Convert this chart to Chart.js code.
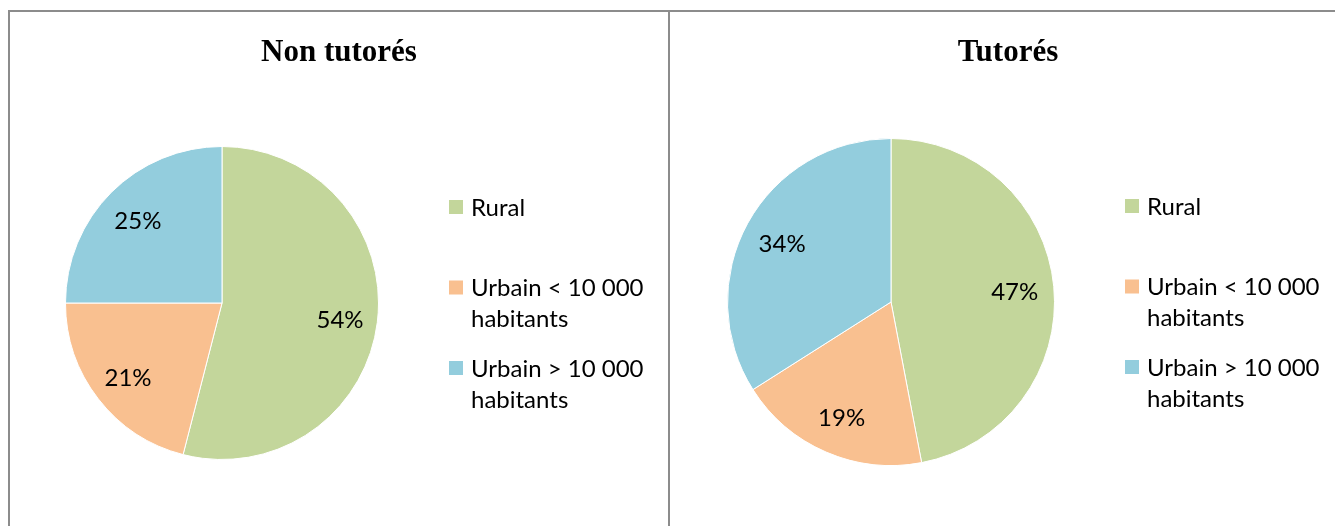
<!DOCTYPE html>
<html lang="fr">
<head>
<meta charset="utf-8">
<script src="https://cdn.jsdelivr.net/npm/chart.js@4.4.1/dist/chart.umd.min.js"></script>
<style>
  html, body { margin: 0; padding: 0; background: #fff; overflow: hidden; }
  body { width: 1335px; height: 526px; position: relative; }
  .frame { position: absolute; left: 8px; top: 10px; width: 1400px; height: 600px;
           border-top: 2px solid #8c8c8c; border-left: 2px solid #8c8c8c; }
  .divider { position: absolute; left: 668px; top: 10px; width: 2px; height: 600px; background: #8c8c8c; }
  .panel { position: absolute; top: 12px; }
  #panelA { left: 10px; }
  #panelB { left: 670px; }
</style>
</head>
<body>
<div class="frame"></div>
<div class="divider"></div>
<div class="panel" id="panelA"><canvas id="chartA" width="658" height="514"></canvas></div>
<div class="panel" id="panelB"><canvas id="chartB" width="676" height="514"></canvas></div>

<script>
// catégories (une ligne par élément de tableau pour la légende)
const categories = [
  ['Rural'],
  ['Urbain < 10 000', 'habitants'],
  ['Urbain > 10 000', 'habitants'],
];
const nonTutores = [54, 21, 25];
const tutores = [47, 19, 34];
const titles = ['Non tutorés', 'Tutorés'];

const COLORS = ['#c3d69b', '#f9c090', '#93cddd'];
const TEXT_FONT = '24px Lato';
const TITLE_FONT = 'bold 31px "Liberation Serif"';

// titre, étiquettes de données et légende dessinés à la manière d'Excel
const excelDecor = {
  id: 'excelDecor',
  afterDatasetsDraw(chart, args, opts) {
    const ctx = chart.ctx;
    const area = chart.chartArea;
    const meta = chart.getDatasetMeta(0);
    const ds = chart.data.datasets[0];

    ctx.save();
    ctx.fillStyle = '#000';

    // étiquettes dans les secteurs
    ctx.font = TEXT_FONT;
    ctx.textAlign = 'center';
    ctx.textBaseline = 'middle';
    meta.data.forEach((arc, i) => {
      const p = arc.getProps(['x', 'y', 'startAngle', 'endAngle', 'outerRadius'], true);
      const mid = (p.startAngle + p.endAngle) / 2;
      const r = p.outerRadius * 0.76;
      ctx.fillText(ds.data[i] + '%', p.x + Math.cos(mid) * r, p.y + Math.sin(mid) * r + 2);
    });

    // titre
    ctx.font = TITLE_FONT;
    ctx.textBaseline = 'alphabetic';
    ctx.fillText(opts.title, chart.width / 2, 49);

    // légende
    const cy = (area.top + area.bottom) / 2;
    const boxX = area.right + 70;
    ctx.font = TEXT_FONT;
    ctx.textAlign = 'left';
    ctx.textBaseline = 'middle';
    chart.data.labels.forEach((lines, i) => {
      const y = cy - 96 + i * 80.5;
      ctx.fillStyle = ds.backgroundColor[i];
      ctx.fillRect(boxX, y - 7, 14, 14);
      ctx.fillStyle = '#000';
      lines.forEach((line, j) => {
        ctx.fillText(line, boxX + 22, y + 1 + j * 31);
      });
    });
    ctx.restore();
  },
};

function makePie(canvasId, values, title, padding) {
  return new Chart(document.getElementById(canvasId), {
    type: 'pie',
    data: {
      labels: categories,
      datasets: [{
        data: values,
        backgroundColor: COLORS,
        borderColor: '#ffffff',
        borderWidth: 1,
      }],
    },
    options: {
      responsive: false,
      animation: false,
      layout: { padding },
      plugins: {
        legend: { display: false },
        tooltip: { enabled: false },
        title: { display: false },
        excelDecor: { title },
      },
    },
    plugins: [excelDecor],
  });
}

makePie('chartA', nonTutores, titles[0], { left: 55, right: 289, top: 134, bottom: 66 });
makePie('chartB', tutores, titles[1], { left: 57, right: 291, top: 126, bottom: 60 });
</script>
</body>
</html>
